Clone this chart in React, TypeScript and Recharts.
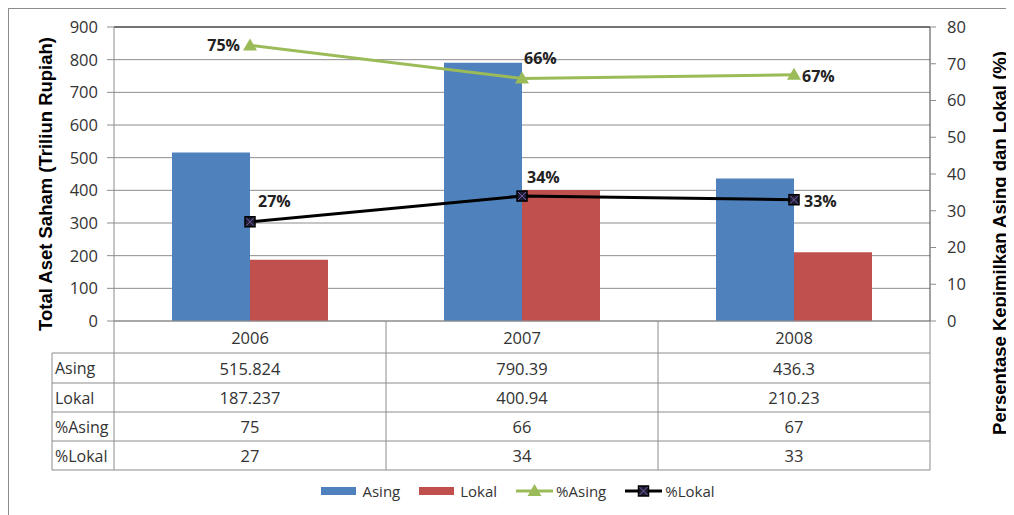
import {
  ComposedChart,
  Bar,
  Line,
  XAxis,
  YAxis,
  CartesianGrid,
  Legend,
  ReferenceLine,
} from "recharts";

const years = ["2006", "2007", "2008"];
const asing = [515.824, 790.39, 436.3];
const lokal = [187.237, 400.94, 210.23];
const pctAsing = [75, 66, 67];
const pctLokal = [27, 34, 33];
const leftTicks = [0, 100, 200, 300, 400, 500, 600, 700, 800, 900];
const rightTicks = [0, 10, 20, 30, 40, 50, 60, 70, 80];

const BLUE = "#4F81BD";
const RED = "#C0504D";
const GREEN = "#9BBB59";
const GRID = "#8c8c8c";
const TEXT = "#333";
const FONT = "'Open Sans', sans-serif";
const TITLE_FONT = "'Liberation Sans', Arial, sans-serif";

const CHART_W = 1000;
const CHART_H = 507;
const MARGIN = { top: 18, right: 9, left: 35, bottom: 11 };
const AXIS_W = 70;
const PLOT_W = CHART_W - MARGIN.left - MARGIN.right - AXIS_W * 2;
const COL_W = PLOT_W / years.length;
const HEAD_W = 62;
// row boundaries of the data table, measured down from the x axis
const ROW_LINES = [32, 62, 91, 120, 149];

const data = years.map((year, i) => ({
  year,
  asing: asing[i],
  lokal: lokal[i],
  pctAsing: pctAsing[i],
  pctLokal: pctLokal[i],
}));

const tableRows = [
  { name: "Asing", values: asing },
  { name: "Lokal", values: lokal },
  { name: "%Asing", values: pctAsing },
  { name: "%Lokal", values: pctLokal },
];

const TableTick = (props: any) => {
  const { x, y, payload } = props;
  const i = payload.index;
  const l = x - COL_W / 2;
  const r = x + COL_W / 2;
  const bottom = y + ROW_LINES[ROW_LINES.length - 1];
  const mids = [0, ...ROW_LINES].slice(0, -1).map((t, k) => (t + ROW_LINES[k]) / 2);
  return (
    <g fontFamily={FONT} fontSize={16.5} fill={TEXT}>
      {i === 0 && <line x1={l} x2={l} y1={y} y2={bottom} stroke={GRID} />}
      <line x1={r} x2={r} y1={y} y2={bottom} stroke={GRID} />
      {ROW_LINES.map((d) => (
        <line key={d} x1={l} x2={r} y1={y + d} y2={y + d} stroke={GRID} />
      ))}
      {i === 0 && (
        <g>
          <line x1={l - HEAD_W} x2={l - HEAD_W} y1={y + ROW_LINES[0]} y2={bottom} stroke={GRID} />
          {ROW_LINES.map((d) => (
            <line key={d} x1={l - HEAD_W} x2={l} y1={y + d} y2={y + d} stroke={GRID} />
          ))}
          {tableRows.map((row, k) => (
            <text key={row.name} x={l - HEAD_W + 3} y={y + mids[k + 1]} fontSize={16} dominantBaseline="central">
              {row.name}
            </text>
          ))}
        </g>
      )}
      <text x={x} y={y + mids[0]} textAnchor="middle" dominantBaseline="central">
        {payload.value}
      </text>
      {tableRows.map((row, k) => (
        <text key={row.name} x={x} y={y + mids[k + 1]} textAnchor="middle" dominantBaseline="central">
          {String(row.values[i])}
        </text>
      ))}
    </g>
  );
};

const Triangle = (props: any) => {
  const { cx, cy } = props;
  if (cx == null || cy == null) return null;
  return <path d={`M${cx - 7},${cy + 5} L${cx + 7},${cy + 5} L${cx},${cy - 7} Z`} fill={GREEN} />;
};

const XSquare = (props: any) => {
  const { cx, cy } = props;
  if (cx == null || cy == null) return null;
  return (
    <g>
      <rect x={cx - 5} y={cy - 5} width={10} height={10} fill="#1d1d33" stroke="#000" strokeWidth={1.5} />
      <path d={`M${cx - 4},${cy - 4} L${cx + 4},${cy + 4} M${cx + 4},${cy - 4} L${cx - 4},${cy + 4}`} stroke="#7b5ea7" strokeWidth={1} />
    </g>
  );
};

const asingLabelPos = [
  { dx: -10, dy: 0, anchor: "end" },
  { dx: 2, dy: -20, anchor: "start" },
  { dx: 8, dy: 1, anchor: "start" },
];
const lokalLabelPos = [
  { dx: 8, dy: -21, anchor: "start" },
  { dx: 5, dy: -19, anchor: "start" },
  { dx: 10, dy: 1, anchor: "start" },
];

const makeLabel = (pos: typeof asingLabelPos) => (props: any) => {
  const { x, y, value, index } = props;
  const p = pos[index];
  return (
    <text
      x={x + p.dx}
      y={y + p.dy}
      textAnchor={p.anchor}
      dominantBaseline="central"
      fontFamily={FONT}
      fontWeight="bold"
      fontSize={16}
      fill="#222"
    >
      {value}%
    </text>
  );
};

const LegendContent = () => (
  <div
    style={{
      display: "flex",
      justifyContent: "center",
      alignItems: "center",
      gap: 19,
      paddingRight: 8,
      fontFamily: FONT,
      fontSize: 15,
      color: TEXT,
    }}
  >
    <span style={{ display: "flex", alignItems: "center", gap: 6 }}>
      <span style={{ width: 35, height: 8, background: BLUE }} />Asing
    </span>
    <span style={{ display: "flex", alignItems: "center", gap: 6 }}>
      <span style={{ width: 35, height: 8, background: RED }} />Lokal
    </span>
    <span style={{ display: "flex", alignItems: "center", gap: 3 }}>
      <svg width={37} height={14}>
        <line x1={0} x2={37} y1={7} y2={7} stroke={GREEN} strokeWidth={3} />
        <Triangle cx={18.5} cy={7} />
      </svg>
      %Asing
    </span>
    <span style={{ display: "flex", alignItems: "center", gap: 3 }}>
      <svg width={37} height={14}>
        <line x1={0} x2={37} y1={7} y2={7} stroke="#000" strokeWidth={3} />
        <XSquare cx={18.5} cy={7} />
      </svg>
      %Lokal
    </span>
  </div>
);

const App = () => {
  return (
    <div style={{ width: CHART_W, height: CHART_H, border: `1px solid ${GRID}` }}>
      <ComposedChart
        width={CHART_W}
        height={CHART_H}
        data={data}
        margin={MARGIN}
        barGap={0}
      >
        <CartesianGrid vertical={false} stroke={GRID} />
        <XAxis
          dataKey="year"
          height={160}
          interval={0}
          tickSize={0}
          tickMargin={0}
          tickLine={false}
          axisLine={{ stroke: GRID }}
          tick={<TableTick />}
        />
        <YAxis
          width={AXIS_W}
          domain={[0, 900]}
          ticks={leftTicks}
          tickSize={7}
          tickMargin={9}
          axisLine={{ stroke: GRID }}
          tickLine={{ stroke: GRID }}
          tick={{ fontFamily: FONT, fontSize: 16.5, fill: TEXT }}
          label={({ viewBox }: any) => (
            <text
              x={0}
              y={0}
              transform={`translate(${viewBox.x + 1}, 175) rotate(-90)`}
              textAnchor="middle"
              dominantBaseline="central"
              fontFamily={TITLE_FONT}
              fontWeight="bold"
              fontSize={18.5}
              fill="#000"
            >
              Total Aset Saham (Triliun Rupiah)
            </text>
          )}
        />
        <YAxis
          yAxisId="right"
          orientation="right"
          width={AXIS_W}
          domain={[0, 80]}
          ticks={rightTicks}
          tickSize={6}
          tickMargin={11}
          axisLine={{ stroke: "#444" }}
          tickLine={{ stroke: GRID }}
          tick={{ fontFamily: FONT, fontSize: 16.5, fill: TEXT, textAnchor: "start" }}
          label={({ viewBox }: any) => (
            <text
              x={0}
              y={0}
              transform={`translate(${viewBox.x + viewBox.width - 1}, 234) rotate(-90)`}
              textAnchor="middle"
              dominantBaseline="central"
              fontFamily={TITLE_FONT}
              fontWeight="bold"
              fontSize={18.5}
              fill="#000"
            >
              Persentase Kepimilkan Asing dan Lokal (%)
            </text>
          )}
        />
        <ReferenceLine y={900} stroke="#222" />
        <Legend verticalAlign="bottom" height={24} content={<LegendContent />} />
        <Bar dataKey="asing" name="Asing" fill={BLUE} barSize={78} isAnimationActive={false} />
        <Bar dataKey="lokal" name="Lokal" fill={RED} barSize={78} isAnimationActive={false} />
        <Line
          yAxisId="right"
          dataKey="pctAsing"
          name="%Asing"
          stroke={GREEN}
          strokeWidth={3}
          dot={<Triangle />}
          activeDot={false}
          label={makeLabel(asingLabelPos)}
          isAnimationActive={false}
        />
        <Line
          yAxisId="right"
          dataKey="pctLokal"
          name="%Lokal"
          stroke="#000"
          strokeWidth={3}
          dot={<XSquare />}
          activeDot={false}
          label={makeLabel(lokalLabelPos)}
          isAnimationActive={false}
        />
      </ComposedChart>
    </div>
  );
};

export default App;
